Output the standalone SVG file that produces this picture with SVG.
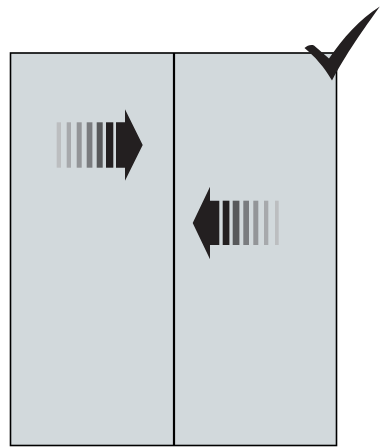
<svg xmlns="http://www.w3.org/2000/svg" width="380" height="447" viewBox="0 0 380 447">
  <style>
    .panel { fill: #d2d9dc; stroke: #000; stroke-width: 1.6; }
    .divider { stroke: #000; stroke-width: 2.2; }
    .dark { fill: #231f20; }
    .g1 { fill: #bcbec0; }
    .g2 { fill: #a7a9ac; }
    .g3 { fill: #939598; }
    .g4 { fill: #7a7c7f; }
    .g5 { fill: #58595b; }
  </style>
  <rect width="380" height="447" fill="#ffffff"/>
  <g id="panel">
    <rect class="panel" x="10.5" y="53" width="326" height="392.5"/>
    <line class="divider" x1="174" y1="53" x2="174" y2="446"/>
  </g>
  <g id="arrow-right">
    <rect class="g1" x="56.7" y="122.3" width="4.3" height="45.4"/>
    <rect class="g2" x="66.7" y="122.3" width="4.3" height="45.4"/>
    <rect class="g3" x="76.7" y="122.3" width="5" height="45.4"/>
    <rect class="g4" x="86.7" y="122.3" width="5.7" height="45.4"/>
    <rect class="g5" x="96.7" y="122.3" width="6" height="45.4"/>
    <rect class="dark" x="106" y="122.3" width="7.3" height="45.4"/>
    <path class="dark" d="M116 122.3 H125 V109.3 L142.7 145 L125 180.7 V167.7 H116 Z"/>
  </g>
  <g id="arrow-left">
    <path class="dark" d="M219.3 200.7 H210 V186.7 L192.7 223 L210 259.3 V245 H219.3 Z"/>
    <rect class="dark" x="222.7" y="200.7" width="6.7" height="44.3"/>
    <rect class="g5" x="232.7" y="200.7" width="6.7" height="44.3"/>
    <rect class="g4" x="243.3" y="200.7" width="5.7" height="44.3"/>
    <rect class="g3" x="253.3" y="200.7" width="5" height="44.3"/>
    <rect class="g2" x="264" y="200.7" width="4.3" height="44.3"/>
    <rect class="g1" x="275" y="200.7" width="3.7" height="44.3"/>
  </g>
  <g id="checkmark">
    <path class="dark" d="M304.5 48 C307.5 45.5, 310.5 44.5, 314 45.5 L329 58.5 C343 38, 360 19, 379.8 6.5 C369 22, 350 47, 332 80.5 C324.5 67.5, 314.5 56, 304.5 48 Z"/>
  </g>
</svg>
